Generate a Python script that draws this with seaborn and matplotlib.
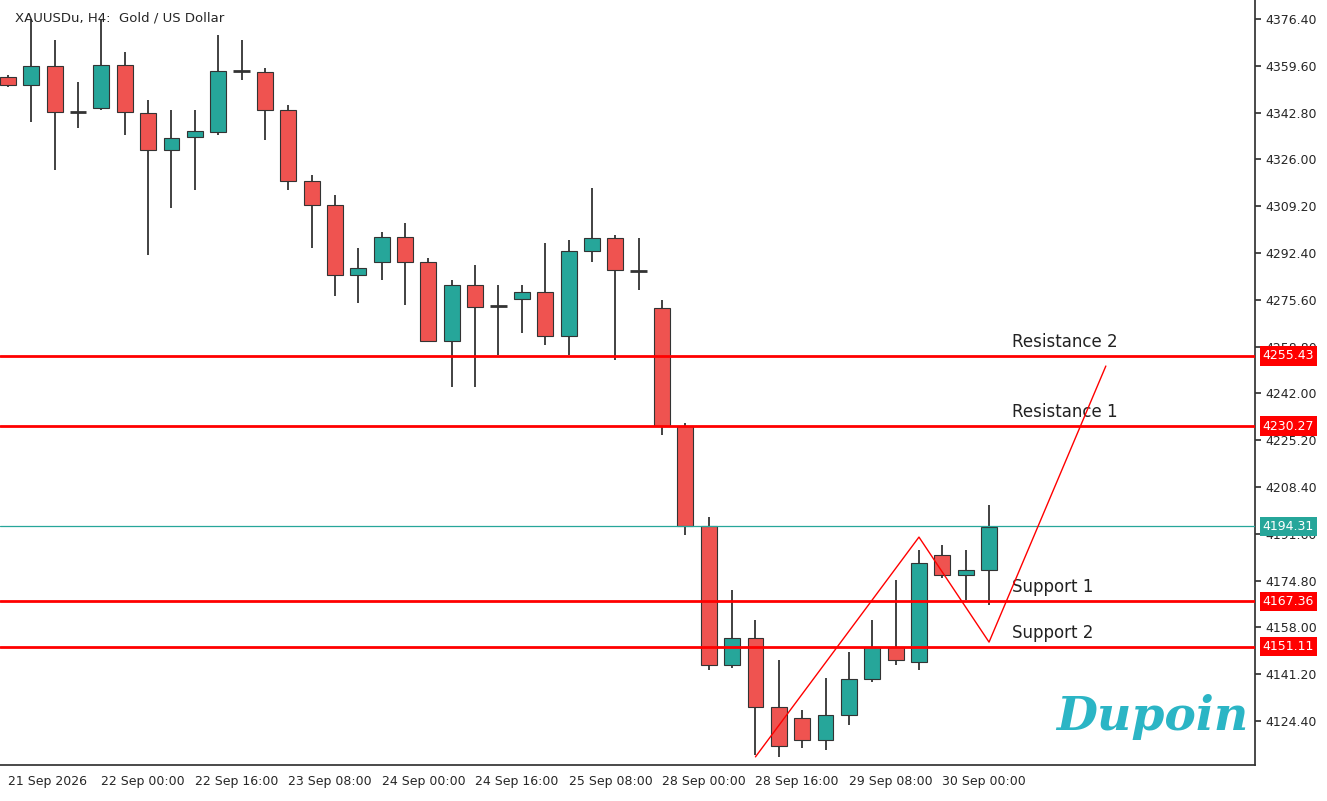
import matplotlib
matplotlib.use("Agg")
import matplotlib.pyplot as plt
import seaborn as sns

sns.set_theme(style="white")
plt.rcParams['font.family'] = ['DejaVu Sans']

opens  = [4355.6,4352.7,4359.5,4343.0,4344.4,4359.9,4342.7,4329.4,4334.0,4335.8,4357.7,4357.4,4343.7,4318.2,4309.6,4284.5,4289.2,4298.1,4289.2,4260.8,4280.9,4273.4,4275.9,4278.4,4262.6,4293.1,4297.8,4285.9,4272.6,4230.3,4194.4,4144.5,4154.1,4129.4,4125.5,4117.6,4126.5,4139.5,4150.9,4145.6,4184.0,4176.8,4178.6]
highs  = [4356.3,4376.0,4368.9,4353.8,4376.0,4364.6,4347.3,4343.7,4343.7,4370.7,4368.9,4358.8,4345.5,4320.4,4313.2,4294.2,4299.9,4303.2,4290.6,4282.7,4288.1,4280.9,4280.9,4296.0,4297.1,4315.7,4298.9,4297.8,4275.5,4231.4,4197.6,4171.4,4160.6,4146.3,4128.3,4139.8,4149.2,4160.6,4175.0,4185.8,4187.6,4185.8,4201.9]
lows   = [4352.0,4339.4,4322.2,4337.3,4343.7,4334.8,4291.7,4308.5,4315.0,4334.8,4354.5,4333.0,4315.0,4294.2,4277.0,4274.4,4282.7,4273.7,4260.4,4244.3,4244.3,4255.8,4263.7,4259.4,4255.8,4289.2,4254.0,4279.1,4227.1,4191.2,4142.7,4143.4,4112.2,4111.5,4114.7,4114.0,4122.9,4138.4,4144.5,4142.7,4175.7,4167.8,4166.0]
closes = [4352.7,4359.5,4343.0,4343.0,4359.9,4343.0,4329.4,4333.7,4336.2,4357.7,4357.7,4343.7,4318.2,4309.6,4284.5,4287.0,4298.1,4289.2,4260.8,4280.9,4273.0,4273.4,4278.4,4262.6,4293.1,4297.8,4286.3,4285.9,4230.3,4194.4,4144.5,4154.1,4129.4,4115.4,4117.6,4126.5,4139.5,4150.9,4146.3,4181.1,4176.8,4178.6,4194.0]
tick_idx = [0,4,8,12,16,20,24,28,32,36,40]
tick_labels = ["21 Sep 2026","22 Sep 00:00","22 Sep 16:00","23 Sep 08:00","24 Sep 00:00","24 Sep 16:00","25 Sep 08:00","28 Sep 00:00","28 Sep 16:00","29 Sep 08:00","30 Sep 00:00"]
levels = [4255.43,4230.27,4167.36,4151.11]
level_names = ["Resistance 2","Resistance 1","Support 1","Support 2"]
current = 4194.31
zig_x = [32,39,42,47]
zig_y = [4111.5,4190.4,4152.7,4251.8]
yticks = [4376.40,4359.60,4342.80,4326.00,4309.20,4292.40,4275.60,4258.80,4242.00,4225.20,4208.40,4191.60,4174.80,4158.00,4141.20,4124.40]

RED="#EF5350"; GREEN="#26A69A"; EDGE="#333333"
fig = plt.figure(figsize=(13.27,8.01), dpi=100)
ax = fig.add_axes([0.0, 0.045, 0.946, 0.955])
ax.set_xlim(-0.34, 53.4)
ax.set_ylim(4108.6, 4383.2)
for i,(o,h,l,c) in enumerate(zip(opens,highs,lows,closes)):
    ax.vlines(i, l, h, color=EDGE, lw=1.3, zorder=2)
    lo, hi = min(o,c), max(o,c)
    if hi-lo < 0.8:
        ax.hlines(o, i-0.35, i+0.35, color=EDGE, lw=2, zorder=3)
    else:
        ax.bar(i, hi-lo, bottom=lo, width=0.68, color=GREEN if c>o else RED, edgecolor=EDGE, lw=0.8, zorder=3)
trans = ax.get_yaxis_transform()
for lv,nm in zip(levels,level_names):
    ax.axhline(lv, color="#FF0000", lw=2, zorder=4)
    ax.text(43, lv+1.8, nm, fontsize=12, color="#222222", va="bottom", zorder=5)
    ax.text(1.006, lv, f"{lv:.2f}", transform=trans, fontsize=9, color="white", va="center", zorder=10,
            bbox=dict(boxstyle="square,pad=0.25", fc="#FF0000", ec="none"), clip_on=False)
ax.axhline(current, color=GREEN, lw=0.9, zorder=4)
ax.text(1.006, current, f"{current:.2f}", transform=trans, fontsize=9, color="white", va="center", zorder=10,
        bbox=dict(boxstyle="square,pad=0.25", fc=GREEN, ec="none"), clip_on=False)
ax.plot(zig_x, zig_y, color="#FF0000", lw=1, zorder=5)
ax.yaxis.tick_right()
ax.set_yticks(yticks)
ax.set_yticklabels([f"{v:.2f}" for v in yticks], fontsize=9)
ax.set_xticks(tick_idx)
ax.set_xticklabels(tick_labels, fontsize=9, ha="left")
ax.tick_params(axis="both", length=4, direction="out", color="#333333", pad=3)
for s in ["left","top"]:
    ax.spines[s].set_visible(False)
for s in ["right","bottom"]:
    ax.spines[s].set_color("#333333")
ax.text(0.012, 0.985, "XAUUSDu, H4:  Gold / US Dollar", transform=ax.transAxes, fontsize=9.5, va="top", ha="left")
fig.text(0.868, 0.105, "Dupoin", fontsize=34, color="#2BB5C5", fontweight="bold", style="italic",
         family="DejaVu Serif", ha="center", va="center")
fig.savefig("out.png", dpi=100)
